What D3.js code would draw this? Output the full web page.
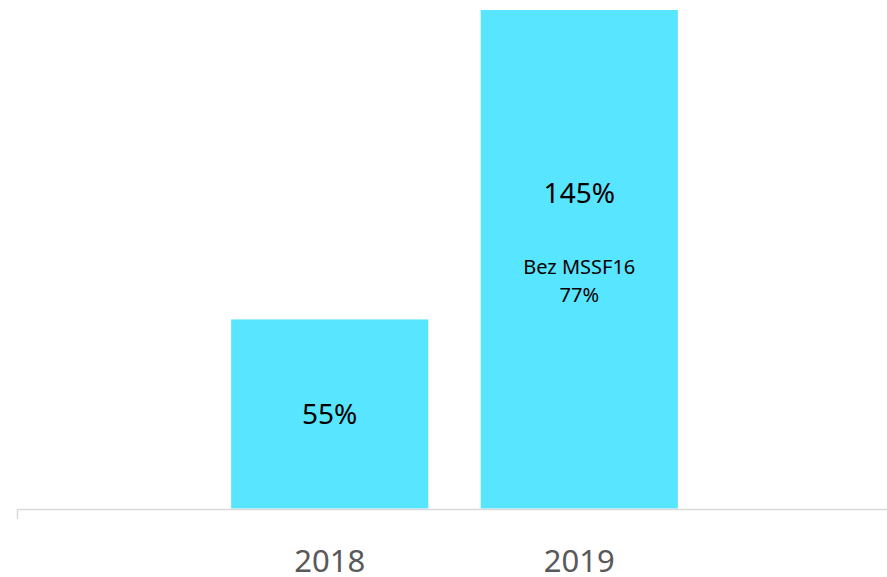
<!DOCTYPE html>
<html>
<head>
<meta charset="utf-8">
<script src="https://cdn.jsdelivr.net/npm/d3@7"></script>
<style>
  html, body { margin: 0; padding: 0; background: #fff; }
  svg { display: block; font-family: "Noto Sans", "Open Sans", sans-serif; }
</style>
</head>
<body>
<svg id="chart" width="887" height="577"></svg>
<script>
const years = ["2018", "2019"];
const values = [55, 145];
const valueLabels = ["55%", "145%"];
const noteLabels = [null, ["Bez MSSF16", "77%"]];

const svg = d3.select("#chart");
const baseline = 508.5;

const x = d3
  .scaleBand()
  .domain(years)
  .range([17, 892])
  .paddingInner(0.21)
  .paddingOuter(0.858);

const y = d3.scaleLinear().domain([0, 145]).range([baseline, 10]);

const data = years.map((year, i) => ({
  year,
  value: values[i],
  label: valueLabels[i],
  note: noteLabels[i],
}));

svg
  .append("g")
  .selectAll("rect")
  .data(data)
  .enter()
  .append("rect")
  .attr("x", (d) => x(d.year))
  .attr("y", (d) => y(d.value))
  .attr("width", x.bandwidth())
  .attr("height", (d) => baseline - y(d.value))
  .attr("fill", "#58e5ff");

// axis: only the domain line and the left end tick
const axis = svg
  .append("g")
  .attr("transform", `translate(0, ${baseline + 0.5})`)
  .call(d3.axisBottom(x).tickSizeInner(0).tickSizeOuter(10).tickPadding(41));

axis.select(".domain").attr("stroke", "#d9d9d9").attr("stroke-width", 1.5);
axis
  .selectAll(".tick text")
  .attr("fill", "#595959")
  .style("font-size", "31px")
  .style("font-family", '"Noto Sans", sans-serif');

// value labels
const labels = svg.append("g").attr("text-anchor", "middle").attr("fill", "#000");

labels
  .selectAll(".value-label")
  .data(data)
  .enter()
  .append("text")
  .attr("class", "value-label")
  .attr("x", (d) => x(d.year) + x.bandwidth() / 2)
  .attr("y", (d) => {
    const mid = (y(d.value) + baseline) / 2;
    return d.note ? mid - 66 : mid;
  })
  .attr("dy", "0.36em")
  .style("font-size", "28px")
  .text((d) => d.label);

const notes = labels
  .selectAll(".note-label")
  .data(data.filter((d) => d.note))
  .enter()
  .append("text")
  .attr("class", "note-label")
  .style("font-size", "20px");

notes
  .selectAll("tspan")
  .data((d) => d.note.map((t, i) => ({ t, i, d })))
  .enter()
  .append("tspan")
  .attr("x", (p) => x(p.d.year) + x.bandwidth() / 2)
  .attr("y", (p) => (y(p.d.value) + baseline) / 2 + 15 + p.i * 28)
  .text((p) => p.t);
</script>
</body>
</html>
